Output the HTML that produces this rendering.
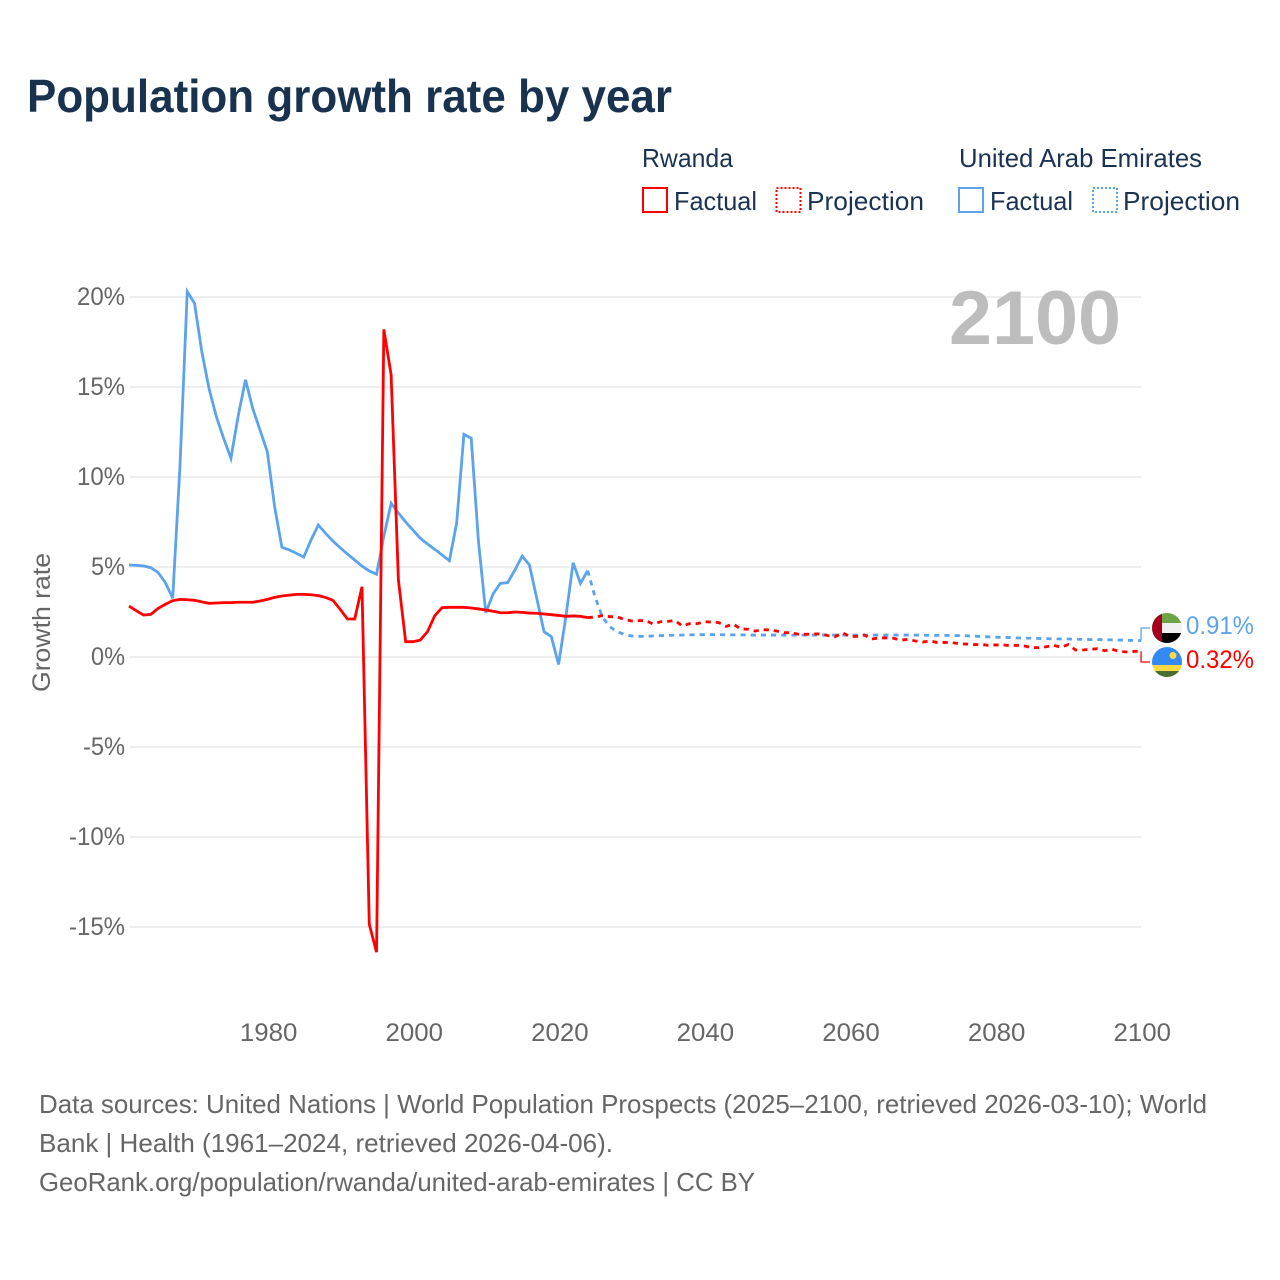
<!DOCTYPE html>
<html lang="en">
<head>
<meta charset="utf-8">
<title>Population growth rate by year</title>
<style>
html,body{margin:0;padding:0;background:#fff;}
svg{display:block;font-family:"Liberation Sans",Arial,sans-serif;}
</style>
</head>
<body>
<svg id="chart" xmlns="http://www.w3.org/2000/svg" width="1280" height="1280" viewBox="0 0 1280 1280">
  <rect width="1280" height="1280" fill="#fff"/>
  <text x="27" y="112" font-size="46" font-weight="bold" fill="#18324f" textLength="645" lengthAdjust="spacingAndGlyphs">Population growth rate by year</text>

  <g font-size="26" fill="#1b3353">
    <text x="642" y="167" textLength="91" lengthAdjust="spacingAndGlyphs">Rwanda</text>
    <text x="959" y="167" textLength="243" lengthAdjust="spacingAndGlyphs">United Arab Emirates</text>
    <rect x="643" y="188" width="24" height="24" fill="none" stroke="#ff0000" stroke-width="2"/>
    <text x="674" y="210" textLength="83" lengthAdjust="spacingAndGlyphs">Factual</text>
    <rect x="776.500" y="188" width="24" height="24" fill="none" stroke="#ff0000" stroke-width="2" stroke-dasharray="2 2"/>
    <text x="807" y="210" textLength="117" lengthAdjust="spacingAndGlyphs">Projection</text>
    <rect x="959" y="188" width="24" height="24" fill="none" stroke="#5ba4ec" stroke-width="2"/>
    <text x="990" y="210" textLength="83" lengthAdjust="spacingAndGlyphs">Factual</text>
    <rect x="1093" y="188" width="24" height="24" fill="none" stroke="#5ba4ec" stroke-width="2" stroke-dasharray="2 2"/>
    <text x="1123" y="210" textLength="117" lengthAdjust="spacingAndGlyphs">Projection</text>
  </g>

  <g id="grid"></g>
  <text x="949" y="344" font-size="76" font-weight="bold" fill="#bdbdbd" textLength="172" lengthAdjust="spacingAndGlyphs">2100</text>
  <g id="yticks" font-size="25" fill="#666"></g>
  <g id="xticks" font-size="25" fill="#666"></g>
  <text transform="translate(50 692) rotate(-90)" font-size="25" fill="#666" textLength="139" lengthAdjust="spacingAndGlyphs">Growth rate</text>
  <g id="series"></g>

  <defs>
    <clipPath id="clip-uae"><circle cx="1167" cy="628" r="15"/></clipPath>
    <clipPath id="clip-rw"><circle cx="1167" cy="662" r="15"/></clipPath>
  </defs>
  <g clip-path="url(#clip-uae)">
    <rect x="1152" y="613" width="30" height="10" fill="#6da544"/>
    <rect x="1152" y="623" width="30" height="10" fill="#f0f0f0"/>
    <rect x="1152" y="633" width="30" height="10" fill="#000"/>
    <rect x="1152" y="613" width="10" height="30" fill="#a2001d"/>
  </g>
  <g clip-path="url(#clip-rw)">
    <rect x="1152" y="647" width="30" height="18" fill="#338af3"/>
    <rect x="1152" y="665" width="30" height="6" fill="#ffda44"/>
    <rect x="1152" y="671" width="30" height="6" fill="#496e2d"/>
    <circle cx="1173" cy="655.500" r="3.500" fill="#ffda44"/>
  </g>
  <text id="label-uae" x="1186" y="634" font-size="25" fill="#5ba4ec" textLength="68" lengthAdjust="spacingAndGlyphs"></text>
  <text id="label-rw" x="1186" y="668" font-size="25" fill="#ff0000" textLength="68" lengthAdjust="spacingAndGlyphs"></text>

  <g font-size="26" fill="#666">
    <text x="39" y="1113" textLength="1168" lengthAdjust="spacingAndGlyphs">Data sources: United Nations | World Population Prospects (2025–2100, retrieved 2026-03-10); World</text>
    <text x="39" y="1152" textLength="574" lengthAdjust="spacingAndGlyphs">Bank | Health (1961–2024, retrieved 2026-04-06).</text>
    <text x="39" y="1191" textLength="716" lengthAdjust="spacingAndGlyphs">GeoRank.org/population/rwanda/united-arab-emirates | CC BY</text>
  </g>
</svg>
<script>
const yTickValues = [20, 15, 10, 5, 0, -5, -10, -15];
const xTickYears = [1980, 2000, 2020, 2040, 2060, 2080, 2100];
const factualYears = [1961,1962,1963,1964,1965,1966,1967,1968,1969,1970,1971,1972,1973,1974,1975,1976,1977,1978,1979,1980,1981,1982,1983,1984,1985,1986,1987,1988,1989,1990,1991,1992,1993,1994,1995,1996,1997,1998,1999,2000,2001,2002,2003,2004,2005,2006,2007,2008,2009,2010,2011,2012,2013,2014,2015,2016,2017,2018,2019,2020,2021,2022,2023,2024];
const projectionYears = [2024,2025,2026,2027,2028,2029,2030,2031,2032,2033,2034,2035,2036,2037,2038,2039,2040,2041,2042,2043,2044,2045,2046,2047,2048,2049,2050,2051,2052,2053,2054,2055,2056,2057,2058,2059,2060,2061,2062,2063,2064,2065,2066,2067,2068,2069,2070,2071,2072,2073,2074,2075,2076,2077,2078,2079,2080,2081,2082,2083,2084,2085,2086,2087,2088,2089,2090,2091,2092,2093,2094,2095,2096,2097,2098,2099,2100];
const rwandaFactual = [2.83,2.57,2.33,2.37,2.7,2.93,3.13,3.2,3.18,3.15,3.06,2.98,3.0,3.02,3.02,3.04,3.04,3.04,3.11,3.2,3.31,3.39,3.44,3.48,3.48,3.46,3.41,3.31,3.15,2.65,2.11,2.11,3.9,-14.85,-16.4,18.2,15.67,4.28,0.85,0.85,0.94,1.41,2.3,2.74,2.76,2.76,2.76,2.72,2.67,2.61,2.54,2.46,2.46,2.5,2.48,2.44,2.43,2.39,2.35,2.31,2.26,2.28,2.26,2.19];
const rwandaProjection = [2.19,2.22,2.3,2.24,2.24,2.09,2.0,2.02,2.02,1.83,1.96,1.98,2.02,1.72,1.85,1.85,1.96,1.94,1.91,1.7,1.83,1.56,1.54,1.44,1.52,1.5,1.44,1.35,1.35,1.26,1.26,1.28,1.28,1.19,1.13,1.35,1.13,1.15,1.22,1.0,1.06,1.06,1.04,0.94,0.98,0.89,0.83,0.89,0.81,0.81,0.8,0.74,0.72,0.69,0.7,0.65,0.67,0.67,0.63,0.65,0.61,0.52,0.52,0.57,0.65,0.54,0.69,0.39,0.39,0.43,0.46,0.35,0.43,0.31,0.28,0.31,0.32];
const uaeFactual = [5.11,5.09,5.06,4.96,4.69,4.13,3.26,10.6,20.3,19.65,16.96,14.9,13.35,12.15,11.04,13.4,15.4,13.8,12.6,11.4,8.35,6.1,5.95,5.76,5.55,6.5,7.33,6.87,6.44,6.07,5.72,5.39,5.05,4.78,4.6,6.7,8.54,8.0,7.5,7.05,6.6,6.28,5.98,5.67,5.35,7.43,12.37,12.15,6.4,2.46,3.5,4.09,4.13,4.83,5.61,5.11,3.26,1.41,1.13,-0.41,2.24,5.24,4.09,4.8];
const uaeProjection = [4.8,3.35,2.24,1.69,1.41,1.26,1.17,1.15,1.15,1.17,1.19,1.2,1.21,1.22,1.23,1.24,1.24,1.24,1.24,1.23,1.23,1.23,1.22,1.22,1.22,1.22,1.22,1.22,1.22,1.22,1.22,1.22,1.22,1.22,1.22,1.22,1.22,1.22,1.22,1.22,1.22,1.22,1.22,1.22,1.22,1.22,1.21,1.21,1.2,1.2,1.19,1.19,1.18,1.16,1.14,1.12,1.1,1.09,1.08,1.06,1.05,1.04,1.03,1.02,1.01,1.0,1.0,0.99,0.98,0.97,0.97,0.96,0.95,0.94,0.93,0.92,0.91];

const NS = 'http://www.w3.org/2000/svg';
function xScale(year) { return 129 + (year - 1961) * 7.281; }
function yScale(pct) { return 657 - pct * 18; }
function svgEl(tag, parent) {
  const el = document.createElementNS(NS, tag);
  parent.appendChild(el);
  return el;
}
function buildPath(years, values) {
  return years.map(function (yr, i) {
    return (i ? 'L' : 'M') + xScale(yr).toFixed(2) + ' ' + yScale(values[i]).toFixed(2);
  }).join(' ');
}

const grid = document.getElementById('grid');
const yTicks = document.getElementById('yticks');
yTickValues.forEach(function (v) {
  const line = svgEl('line', grid);
  
  
  line.setAttribute('x1', 130);
  line.setAttribute('x2', 1141);
  line.setAttribute('y1', yScale(v));
  line.setAttribute('y2', yScale(v));
  line.setAttribute('stroke', '#eeeeee');
  line.setAttribute('stroke-width', 2);
  const t = svgEl('text', yTicks);
  
  
  const label = v + '%';
  const width = 20 + String(Math.abs(v)).length * 14 + (v < 0 ? 8 : 0);
  t.setAttribute('x', 125 - width);
  t.setAttribute('y', yScale(v) + 8);
  t.setAttribute('textLength', width);
  t.setAttribute('lengthAdjust', 'spacingAndGlyphs');
  t.textContent = label;
});

const xTicks = document.getElementById('xticks');
xTickYears.forEach(function (yr) {
  const t = svgEl('text', xTicks);
  
  
  t.setAttribute('x', xScale(yr) - 29 + 1.5);
  t.setAttribute('y', 1041);
  t.setAttribute('textLength', 57.5);
  t.setAttribute('lengthAdjust', 'spacingAndGlyphs');
  t.textContent = String(yr);
});

const seriesGroup = document.getElementById('series');
function drawLine(years, values, color, dashed, name) {
  const p = svgEl('path', seriesGroup);
  
  
  p.setAttribute('d', buildPath(years, values));
  p.setAttribute('fill', 'none');
  p.setAttribute('stroke', color);
  p.setAttribute('stroke-width', 2.8);
  p.setAttribute('stroke-linejoin', 'miter');
  if (dashed) { p.setAttribute('stroke-dasharray', '5.2 5'); }
}
drawLine(factualYears, uaeFactual, '#5ba4ec', false, 'uae-factual-line');
drawLine(projectionYears, uaeProjection, '#5ba4ec', true, 'uae-projection-line');
drawLine(factualYears, rwandaFactual, '#ff0000', false, 'rwanda-factual-line');
drawLine(projectionYears, rwandaProjection, '#ff0000', true, 'rwanda-projection-line');

function drawConnector(value, targetY, color, name) {
  const x = xScale(projectionYears[projectionYears.length - 1]);
  const c = svgEl('path', seriesGroup);
  
  
  c.setAttribute('d', 'M' + x + ' ' + yScale(value) + ' V' + targetY + ' H' + (x + 9));
  c.setAttribute('fill', 'none');
  c.setAttribute('stroke', color);
  c.setAttribute('stroke-width', 1.3);
}
const uaeEnd = uaeProjection[uaeProjection.length - 1];
const rwandaEnd = rwandaProjection[rwandaProjection.length - 1];
drawConnector(uaeEnd, 628, '#5ba4ec', 'uae-end-connector');
drawConnector(rwandaEnd, 662, '#ff0000', 'rwanda-end-connector');
document.getElementById('label-uae').textContent = uaeEnd.toFixed(2) + '%';
document.getElementById('label-rw').textContent = rwandaEnd.toFixed(2) + '%';
</script>
</body>
</html>
